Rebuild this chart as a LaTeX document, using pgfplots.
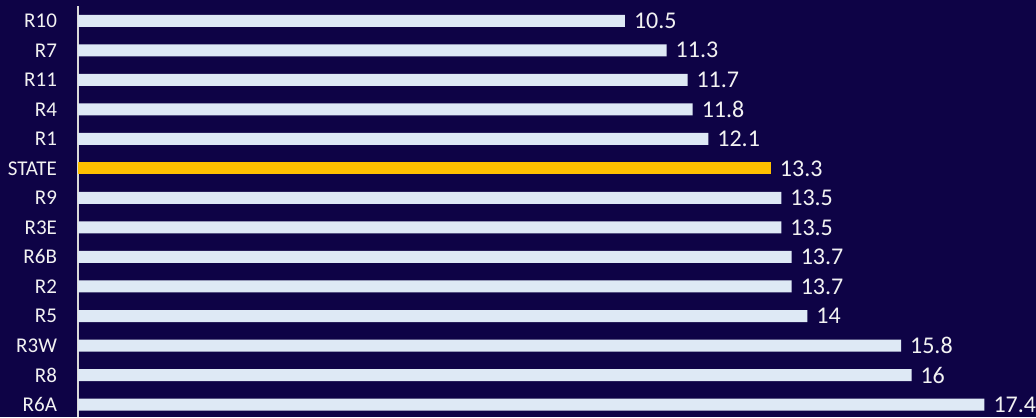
\documentclass[border=0pt]{standalone}
\usepackage{fontspec}
\setmainfont{Carlito}
\usepackage{pgfplots}
\pgfplotsset{compat=1.18}
\usetikzlibrary{calc,backgrounds}
\definecolor{bgnavy}{RGB}{14,3,70}
\definecolor{barblue}{RGB}{222,233,245}
\definecolor{stategold}{RGB}{255,192,0}
\definecolor{axisgray}{RGB}{217,217,217}
\definecolor{labelwhite}{RGB}{242,242,242}

\begin{document}
\begin{tikzpicture}
\begin{axis}[
    scale only axis,
    width=479pt, height=205.5pt,
    xbar, bar width=6pt, bar shift=0pt,
    xmin=0, xmax=18.39,
    ymin=-0.42, ymax=13.5,
    axis x line=none,
    axis y line*=left,
    axis line style={draw=axisgray, line width=0.6pt},
    y axis line style={-},
    ytick={0,...,13},
    yticklabels={R6A,R8,R3W,R5,R2,R6B,R3E,R9,STATE,R1,R4,R11,R7,R10},
    major tick length=0pt,
    yticklabel style={font=\fontsize{10.5}{11}\selectfont, text=labelwhite, anchor=east, xshift=-7pt},
    /pgf/number format/assume math mode=true,
    nodes near coords,
    nodes near coords style={anchor=west, xshift=1pt, font=\fontsize{12}{13}\selectfont, text=labelwhite},
    clip=false,
]
\addplot[fill=barblue, draw=none] coordinates {
    (17.4,0) (16,1) (15.8,2) (14,3) (13.7,4) (13.7,5) (13.5,6) (13.5,7)
    (12.1,9) (11.8,10) (11.7,11) (11.3,12) (10.5,13)
};
\addplot[fill=stategold, draw=none] coordinates {(13.3,8)};
\end{axis}
\pgfresetboundingbox
\path[use as bounding box] ($(current axis.south west)+(-39pt,0)$) rectangle ($(current axis.north east)+(0,3pt)$);
\begin{scope}[on background layer]
\fill[bgnavy] ($(current axis.south west)+(-39pt,0)$) rectangle ($(current axis.north east)+(0,3pt)$);
\end{scope}
\end{tikzpicture}
\end{document}
